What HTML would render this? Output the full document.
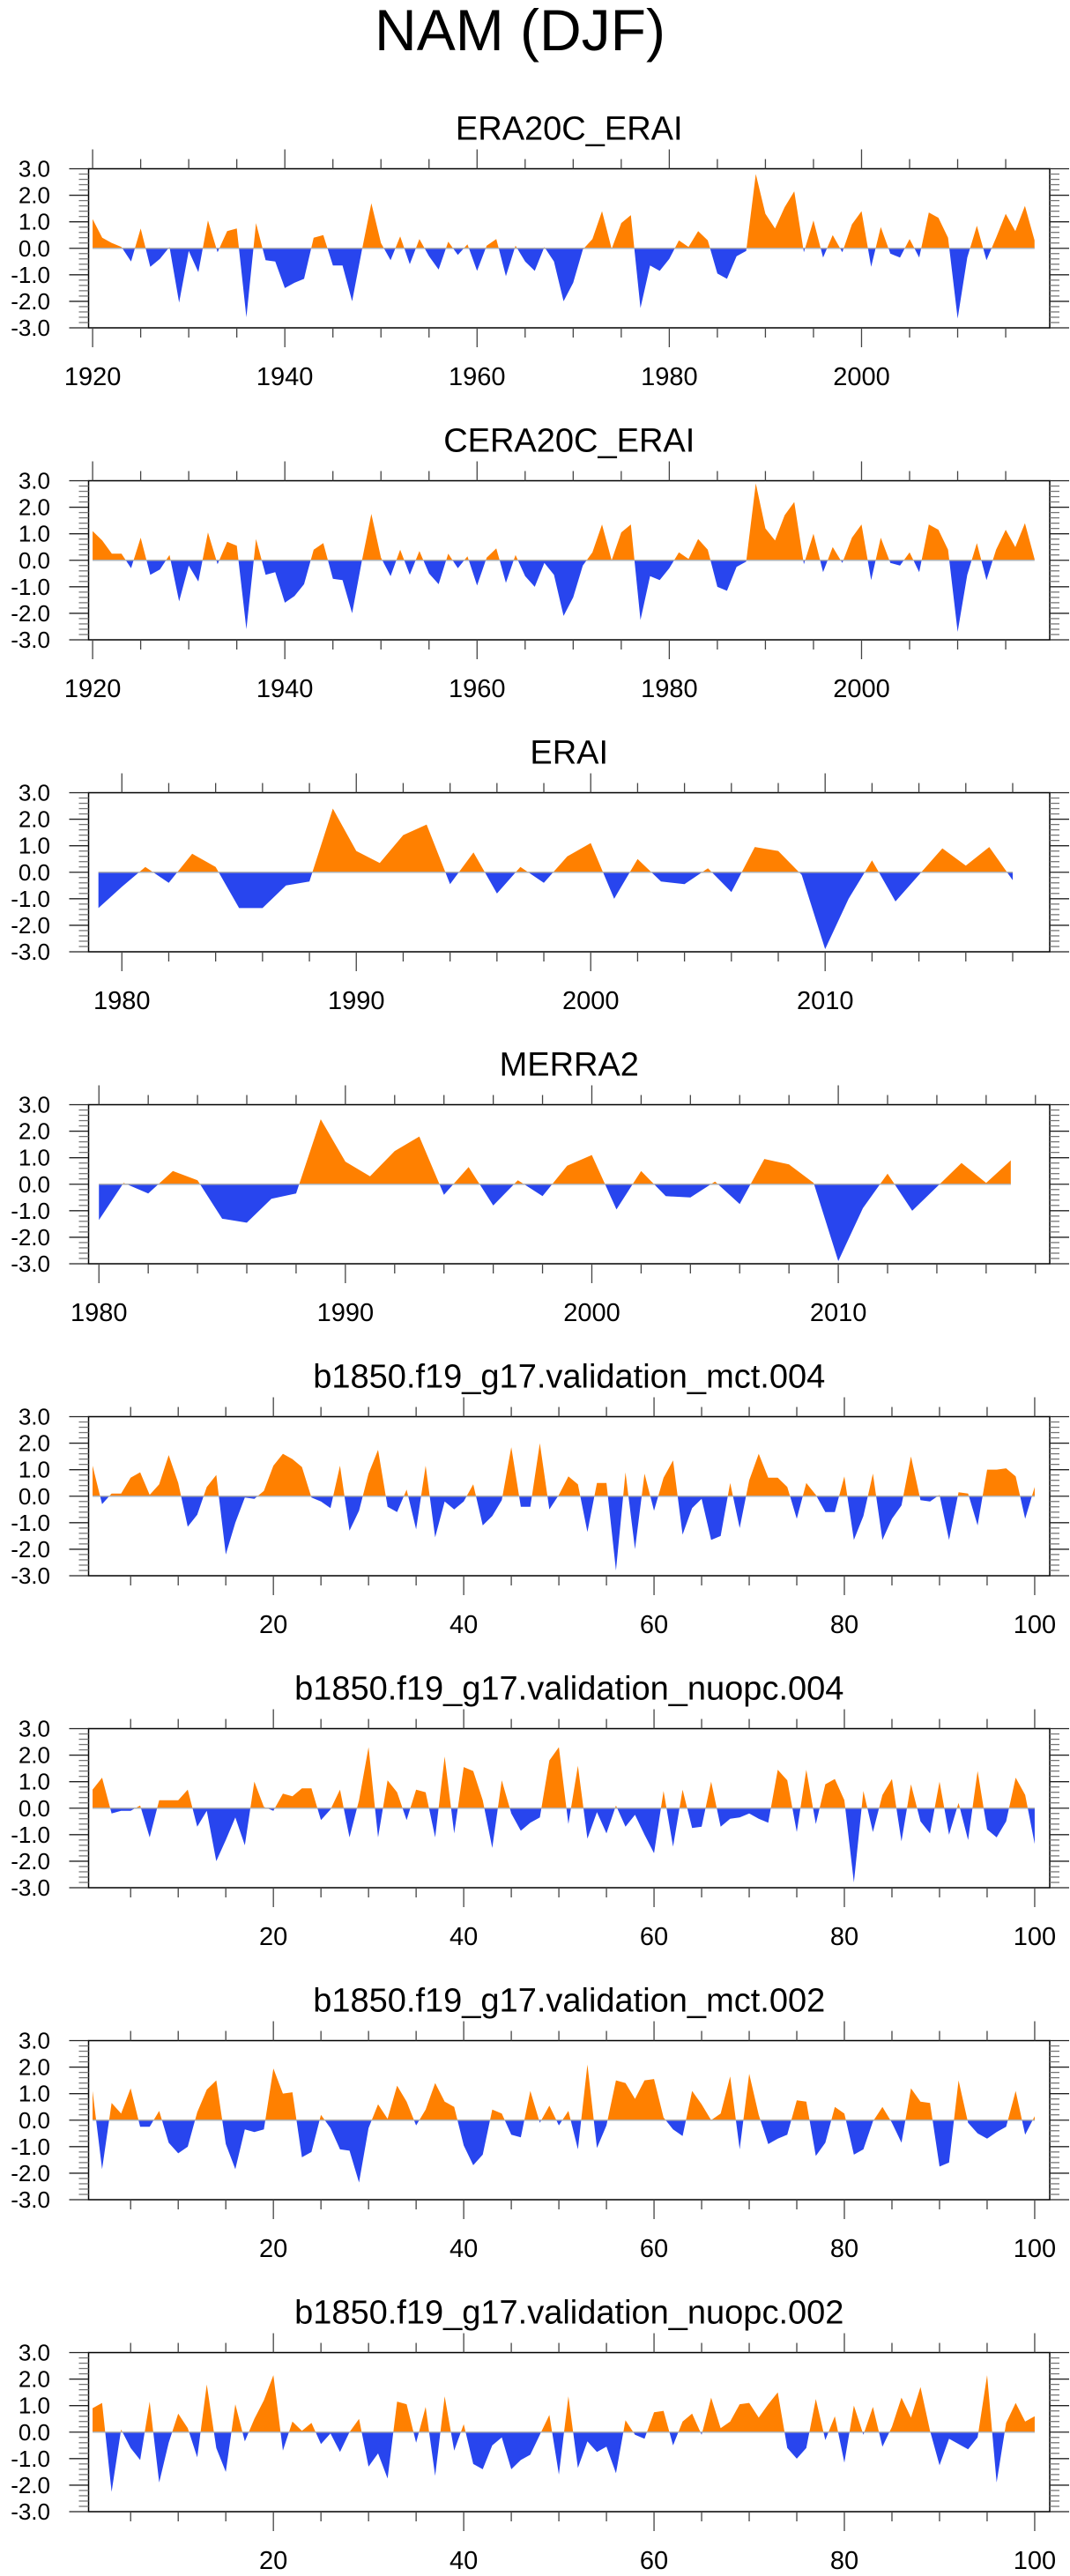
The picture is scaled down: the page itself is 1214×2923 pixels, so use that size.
<!DOCTYPE html>
<html>
<head>
<meta charset="utf-8">
<style>
html,body{margin:0;padding:0;background:#fff;}
svg{display:block;}
text{font-family:"Liberation Sans",sans-serif;fill:#000;}
</style>
</head>
<body>
<svg id="fig" width="1214" height="2923" viewBox="0 0 1214 2923" xmlns="http://www.w3.org/2000/svg">
<text x="590" y="57" font-size="66" text-anchor="middle">NAM (DJF)</text>
</svg>
<script>
// ---- data ----
const era20cStart = 1920;
const era20cValues = [1.1,0.4,0.2,0.05,-0.5,0.75,-0.7,-0.4,0.05,-2.05,-0.1,-0.9,1.05,-0.15,0.65,0.75,-2.6,0.95,-0.45,-0.5,-1.5,-1.3,-1.15,0.4,0.5,-0.65,-0.65,-2.0,-0.1,1.7,0.2,-0.45,0.45,-0.6,0.35,-0.3,-0.8,0.25,-0.25,0.15,-0.85,0.1,0.35,-1.05,0.1,-0.5,-0.85,0.05,-0.5,-2.0,-1.3,-0.05,0.35,1.4,-0.02,0.95,1.25,-2.25,-0.65,-0.85,-0.4,0.3,0.05,0.65,0.3,-0.95,-1.15,-0.3,-0.1,2.8,1.3,0.75,1.55,2.15,-0.15,1.05,-0.35,0.5,-0.15,0.9,1.4,-0.7,0.8,-0.2,-0.35,0.35,-0.35,1.35,1.15,0.4,-2.65,-0.35,0.85,-0.45,0.4,1.3,0.65,1.6,0.3];
const cera20cStart = 1920;
const cera20cValues = [1.1,0.75,0.25,0.25,-0.3,0.85,-0.55,-0.35,0.2,-1.55,-0.2,-0.8,1.05,-0.15,0.7,0.55,-2.6,0.8,-0.55,-0.45,-1.6,-1.35,-0.9,0.4,0.65,-0.7,-0.75,-2.0,-0.05,1.75,0.1,-0.6,0.4,-0.55,0.35,-0.5,-0.9,0.25,-0.3,0.15,-0.95,0.1,0.45,-0.85,0.2,-0.6,-1.0,-0.1,-0.55,-2.1,-1.4,-0.2,0.3,1.35,0.0,1.05,1.35,-2.25,-0.6,-0.75,-0.3,0.3,0.05,0.8,0.4,-1.0,-1.15,-0.25,-0.05,2.9,1.2,0.75,1.7,2.2,-0.15,1.0,-0.45,0.5,-0.1,0.85,1.35,-0.75,0.85,-0.1,-0.2,0.3,-0.45,1.35,1.15,0.4,-2.7,-0.55,0.65,-0.75,0.4,1.15,0.5,1.4,0.05];
const eraiStart = 1979;
const eraiValues = [-1.35,-0.55,0.2,-0.4,0.7,0.2,-1.35,-1.35,-0.5,-0.35,2.4,0.8,0.35,1.4,1.8,-0.45,0.75,-0.8,0.2,-0.4,0.6,1.1,-1.0,0.5,-0.35,-0.45,0.15,-0.75,0.95,0.8,-0.1,-2.9,-1.0,0.45,-1.1,-0.1,0.9,0.25,0.95,-0.3];
const merra2Start = 1980;
const merra2Values = [-1.35,0.05,-0.35,0.5,0.15,-1.3,-1.45,-0.55,-0.35,2.45,0.85,0.3,1.25,1.8,-0.4,0.65,-0.8,0.15,-0.45,0.7,1.1,-0.95,0.5,-0.45,-0.5,0.1,-0.75,0.95,0.75,0.05,-2.9,-0.9,0.4,-1.0,-0.1,0.8,0.05,0.9];
const mct004Start = 1;
const mct004Values = [1.15,-0.3,0.1,0.1,0.7,0.9,0.05,0.45,1.55,0.5,-1.15,-0.7,0.35,0.8,-2.2,-1.0,-0.05,-0.1,0.2,1.15,1.6,1.4,1.1,-0.05,-0.2,-0.45,1.15,-1.3,-0.55,0.85,1.75,-0.4,-0.6,0.25,-1.25,1.15,-1.55,-0.2,-0.5,-0.2,0.45,-1.1,-0.75,-0.15,1.85,-0.4,-0.4,2.0,-0.5,0.05,0.75,0.45,-1.35,0.5,0.5,-2.8,0.9,-2.0,0.85,-0.55,0.7,1.35,-1.45,-0.45,-0.1,-1.65,-1.5,0.5,-1.2,0.6,1.6,0.7,0.7,0.35,-0.85,0.5,0.05,-0.6,-0.6,0.75,-1.65,-0.75,0.85,-1.65,-0.85,-0.35,1.5,-0.15,-0.2,0.05,-1.65,0.15,0.1,-1.1,1.0,1.0,1.05,0.75,-0.85,0.35];
const nuopc004Start = 1;
const nuopc004Values = [0.7,1.15,-0.2,-0.1,-0.1,0.1,-1.1,0.3,0.3,0.3,0.7,-0.7,-0.1,-2.0,-1.2,-0.35,-1.4,1.0,0.05,-0.1,0.55,0.45,0.75,0.75,-0.45,-0.05,0.7,-1.1,0.3,2.3,-1.1,1.05,0.6,-0.45,0.7,0.6,-1.1,1.95,-0.95,1.55,1.4,0.3,-1.5,1.05,-0.2,-0.85,-0.55,-0.35,1.8,2.3,-0.6,1.6,-1.15,-0.15,-0.95,0.1,-0.7,-0.25,-1.0,-1.7,0.65,-1.45,0.7,-0.75,-0.7,1.0,-0.7,-0.4,-0.35,-0.2,-0.4,-0.55,1.45,1.05,-0.9,1.45,-0.6,0.9,1.1,0.3,-2.8,0.65,-0.9,0.5,1.1,-1.25,0.9,-0.5,-0.95,1.0,-1.0,0.2,-1.2,1.4,-0.8,-1.1,-0.5,1.15,0.5,-1.35];
const mct002Start = 1;
const mct002Values = [1.1,-1.85,0.65,0.25,1.2,-0.25,-0.25,0.35,-0.85,-1.25,-1.0,0.3,1.15,1.5,-0.9,-1.85,-0.35,-0.45,-0.35,1.95,1.0,1.05,-1.4,-1.2,0.2,-0.3,-1.1,-1.15,-2.35,-0.3,0.6,0.05,1.3,0.7,-0.2,0.4,1.4,0.7,0.5,-0.95,-1.7,-1.3,0.4,0.25,-0.55,-0.65,1.1,-0.1,0.55,-0.2,0.35,-1.1,2.1,-1.05,-0.2,1.5,1.4,0.8,1.5,1.55,0.1,-0.35,-0.6,1.1,0.6,0.0,0.25,1.65,-1.1,1.75,0.2,-0.9,-0.7,-0.55,0.75,0.7,-1.35,-0.85,0.5,0.25,-1.3,-1.1,-0.05,0.5,-0.1,-0.85,1.2,0.7,0.65,-1.75,-1.6,1.5,-0.1,-0.5,-0.7,-0.45,-0.25,1.1,-0.55,0.15];
const nuopc002Start = 1;
const nuopc002Values = [0.9,1.1,-2.25,0.1,-0.6,-1.05,1.15,-1.9,-0.4,0.7,0.15,-0.95,1.8,-0.6,-1.5,1.05,-0.35,0.5,1.2,2.15,-0.7,0.4,0.05,0.35,-0.45,-0.05,-0.75,0.0,0.5,-1.3,-0.8,-1.75,1.15,1.05,-0.4,0.95,-1.65,1.35,-0.7,0.3,-1.2,-1.4,-0.5,-0.2,-1.4,-1.05,-0.85,-0.1,0.65,-1.6,1.35,-1.35,-0.35,-0.75,-0.55,-1.55,0.45,-0.1,-0.25,0.75,0.8,-0.5,0.4,0.7,-0.1,1.3,0.15,0.4,1.05,1.1,0.55,1.05,1.5,-0.6,-1.0,-0.6,1.25,-0.3,0.6,-1.15,1.0,-0.1,0.95,-0.55,0.2,1.3,0.55,1.7,0.05,-1.25,-0.25,-0.45,-0.65,-0.2,2.15,-1.9,0.35,1.1,0.4,0.6];
const yTickValues = [-3,-2,-1,0,1,2,3];
const yTickLabels = ["-3.0","-2.0","-1.0","0.0","1.0","2.0","3.0"];

const panels = [
  {title:"ERA20C_ERAI", name:"era20c-erai", start:era20cStart, values:era20cValues, major:20, minor:5, labelFrom:1920},
  {title:"CERA20C_ERAI", name:"cera20c-erai", start:cera20cStart, values:cera20cValues, major:20, minor:5, labelFrom:1920},
  {title:"ERAI", name:"erai", start:eraiStart, values:eraiValues, major:10, minor:2, labelFrom:1980},
  {title:"MERRA2", name:"merra2", start:merra2Start, values:merra2Values, major:10, minor:2, labelFrom:1980},
  {title:"b1850.f19_g17.validation_mct.004", name:"mct-004", start:mct004Start, values:mct004Values, major:20, minor:5, labelFrom:20},
  {title:"b1850.f19_g17.validation_nuopc.004", name:"nuopc-004", start:nuopc004Start, values:nuopc004Values, major:20, minor:5, labelFrom:20},
  {title:"b1850.f19_g17.validation_mct.002", name:"mct-002", start:mct002Start, values:mct002Values, major:20, minor:5, labelFrom:20},
  {title:"b1850.f19_g17.validation_nuopc.002", name:"nuopc-002", start:nuopc002Start, values:nuopc002Values, major:20, minor:5, labelFrom:20}
];

const NS = "http://www.w3.org/2000/svg";
const svg = document.getElementById("fig");
const L = 100.5, R = 1191, TOP0 = 191.5, STEP = 354, H = 180.5;
function mk(tag, attrs, parent){
  const e = document.createElementNS(NS, tag);
  for (const k in attrs) e.setAttribute(k, attrs[k]);
  parent.appendChild(e);
  return e;
}
panels.forEach((p, i) => {
  const top = TOP0 + STEP*i, bot = top + H;
  const n = p.values.length;
  const xmin = p.start - 0.42, xmax = p.start + n - 1 + 1.58;
  const xs = v => L + (v - xmin)/(xmax - xmin)*(R - L);
  const ys = v => top + (3 - v)/6*H;
  const g = mk("g", {}, svg);
  
  

  const t = mk("text", {x:(L+R)/2, y:top-33, "font-size":38, "text-anchor":"middle"}, g);
  t.textContent = p.title;
  
  

  // clip paths
  const y0 = ys(0);
  const defs = mk("defs", {}, g);
  const cpA = mk("clipPath", {id:"pos"+i}, defs);
  mk("rect", {x:L, y:top, width:R-L, height:y0-top}, cpA);
  const cpB = mk("clipPath", {id:"neg"+i}, defs);
  mk("rect", {x:L, y:y0, width:R-L, height:bot-y0}, cpB);

  let pts = xs(p.start).toFixed(2)+","+y0.toFixed(2)+" ";
  p.values.forEach((v, k) => { pts += xs(p.start+k).toFixed(2)+","+ys(v).toFixed(2)+" "; });
  pts += xs(p.start+n-1).toFixed(2)+","+y0.toFixed(2);
  const pos = mk("polygon", {points:pts, fill:"#ff8000", "clip-path":"url(#pos"+i+")"}, g);
  
  
  const neg = mk("polygon", {points:pts, fill:"#2845ee", "clip-path":"url(#neg"+i+")"}, g);
  
  
  const zl = mk("line", {x1:xs(p.start), x2:xs(p.start+n-1), y1:y0, y2:y0, stroke:"#b0b0b0", "stroke-width":1.5}, g);
  
  

  // frame
  const fr = mk("rect", {x:L, y:top, width:R-L, height:H, fill:"none", stroke:"#000", "stroke-width":1.5}, g);
  
  

  // y ticks
  for (let v = -3; v <= 3.001; v += 0.2) {
    const y = ys(v);
    const isMaj = Math.abs(v - Math.round(v)) < 0.01;
    const len = isMaj ? 22 : 11;
    mk("line", {x1:L-len, x2:L, y1:y, y2:y, stroke:isMaj?"#222":"#777", "stroke-width":1.3}, g);
    mk("line", {x1:R, x2:R+len, y1:y, y2:y, stroke:isMaj?"#222":"#777", "stroke-width":1.3}, g);
  }
  yTickValues.forEach((v, k) => {
    const yl = mk("text", {x:57, y:ys(v)+9, "font-size":26, "text-anchor":"end"}, g);
    yl.textContent = yTickLabels[k];
    
    
  });

  // x ticks
  const first = Math.ceil(xmin / p.minor) * p.minor;
  for (let v = first; v <= xmax; v += p.minor) {
    const x = xs(v);
    const isMaj = v % p.major === 0;
    const len = isMaj ? 22 : 11;
    mk("line", {x1:x, x2:x, y1:top-len, y2:top, stroke:"#444", "stroke-width":1.3}, g);
    mk("line", {x1:x, x2:x, y1:bot, y2:bot+len, stroke:"#444", "stroke-width":1.3}, g);
    if (isMaj && v >= p.labelFrom) {
      const xl = mk("text", {x:x, y:bot+65, "font-size":29, "text-anchor":"middle"}, g);
      xl.textContent = String(v);
      
      
    }
  }
});
</script>
</body>
</html>
